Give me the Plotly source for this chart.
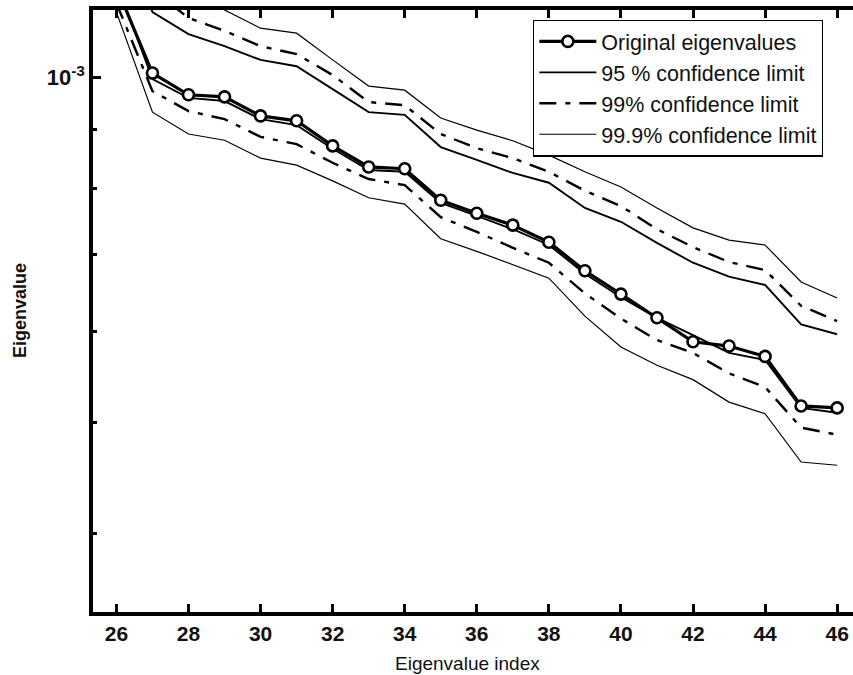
import plotly.graph_objects as go

# Eigenvalue index
idx = list(range(26, 47))

# Original eigenvalues
original = [1.198e-3, 1.008e-3, 9.65e-4, 9.61e-4, 9.25e-4, 9.16e-4, 8.71e-4, 8.35e-4, 8.32e-4,
            7.81e-4, 7.61e-4, 7.43e-4, 7.18e-4, 6.78e-4, 6.47e-4, 6.17e-4, 5.88e-4, 5.83e-4,
            5.71e-4, 5.17e-4, 5.15e-4]

# 95 % confidence limits
upper95 = [1.370e-3, 1.139e-3, 1.090e-3, 1.064e-3, 1.035e-3, 1.022e-3, 9.76e-4, 9.32e-4, 9.27e-4,
           8.69e-4, 8.47e-4, 8.25e-4, 8.09e-4, 7.69e-4, 7.48e-4, 7.17e-4, 6.89e-4, 6.70e-4,
           6.59e-4, 6.09e-4, 5.97e-4]
lower95 = [1.210e-3, 9.96e-4, 9.59e-4, 9.53e-4, 9.19e-4, 9.08e-4, 8.66e-4, 8.30e-4, 8.27e-4,
           7.77e-4, 7.57e-4, 7.37e-4, 7.14e-4, 6.74e-4, 6.43e-4, 6.17e-4, 5.96e-4, 5.75e-4,
           5.67e-4, 5.15e-4, 5.10e-4]

# 99 % confidence limits
upper99 = [1.426e-3, 1.191e-3, 1.126e-3, 1.097e-3, 1.064e-3, 1.047e-3, 1.004e-3, 9.51e-4, 9.45e-4,
           8.92e-4, 8.67e-4, 8.50e-4, 8.27e-4, 7.96e-4, 7.72e-4, 7.37e-4, 7.11e-4, 6.90e-4,
           6.79e-4, 6.32e-4, 6.13e-4]
lower99 = [1.160e-3, 9.72e-4, 9.34e-4, 9.19e-4, 8.87e-4, 8.74e-4, 8.42e-4, 8.15e-4, 8.05e-4,
           7.55e-4, 7.33e-4, 7.10e-4, 6.89e-4, 6.48e-4, 6.16e-4, 5.90e-4, 5.75e-4, 5.52e-4,
           5.37e-4, 4.95e-4, 4.88e-4]

# 99.9 % confidence limits
upper999 = [1.515e-3, 1.290e-3, 1.203e-3, 1.144e-3, 1.103e-3, 1.092e-3, 1.035e-3, 9.82e-4, 9.74e-4,
            9.21e-4, 8.99e-4, 8.80e-4, 8.55e-4, 8.27e-4, 8.02e-4, 7.69e-4, 7.39e-4, 7.21e-4,
            7.14e-4, 6.63e-4, 6.42e-4]
lower999 = [1.139e-3, 9.32e-4, 8.92e-4, 8.81e-4, 8.50e-4, 8.38e-4, 8.12e-4, 7.85e-4, 7.75e-4,
            7.23e-4, 7.05e-4, 6.86e-4, 6.68e-4, 6.19e-4, 5.82e-4, 5.61e-4, 5.45e-4, 5.21e-4,
            5.09e-4, 4.62e-4, 4.59e-4]

x_ticks = list(range(26, 47, 2))
y_major = [1e-3]
y_major_text = ["10<sup>-3</sup>"]
y_minor = [4e-4, 5e-4, 6e-4, 7e-4, 8e-4, 9e-4]

legend_names = ["Original eigenvalues", "95 % confidence limit",
                "99% confidence limit", "99.9% confidence limit"]

FONT = "Liberation Sans, Arial, Helvetica, sans-serif"
DASHDOT = "17px,9px,5px,9px"

fig = go.Figure()

# 99.9% limits (thin solid)
fig.add_trace(go.Scatter(x=idx, y=upper999, mode="lines", name=legend_names[3],
                         legendgroup="c999", legendrank=4,
                         line=dict(color="black", width=1.2)))
fig.add_trace(go.Scatter(x=idx, y=lower999, mode="lines", name=legend_names[3],
                         legendgroup="c999", showlegend=False,
                         line=dict(color="black", width=1.2)))
# 99% limits (dash-dot)
fig.add_trace(go.Scatter(x=idx, y=upper99, mode="lines", name=legend_names[2],
                         legendgroup="c99", legendrank=3,
                         line=dict(color="black", width=2.4, dash=DASHDOT)))
fig.add_trace(go.Scatter(x=idx, y=lower99, mode="lines", name=legend_names[2],
                         legendgroup="c99", showlegend=False,
                         line=dict(color="black", width=2.4, dash=DASHDOT)))
# 95% limits (solid)
fig.add_trace(go.Scatter(x=idx, y=upper95, mode="lines", name=legend_names[1],
                         legendgroup="c95", legendrank=2,
                         line=dict(color="black", width=1.9)))
fig.add_trace(go.Scatter(x=idx, y=lower95, mode="lines", name=legend_names[1],
                         legendgroup="c95", showlegend=False,
                         line=dict(color="black", width=1.9)))
# Original eigenvalues
fig.add_trace(go.Scatter(x=idx, y=original, mode="lines+markers", name=legend_names[0],
                         legendrank=1,
                         line=dict(color="black", width=3.2),
                         marker=dict(symbol="circle", size=11, color="white",
                                     line=dict(color="black", width=2.6))))

fig.update_layout(
    width=853, height=675,
    margin=dict(l=93, r=0, t=10, b=63),
    paper_bgcolor="white", plot_bgcolor="white",
    font=dict(family=FONT, color="black", size=19),
    showlegend=True,
    legend=dict(x=0.579, y=0.984, xanchor="left", yanchor="top",
                bgcolor="white", bordercolor="black", borderwidth=1.3,
                font=dict(family=FONT, size=21.5, color="#111"),
                itemwidth=57, tracegroupgap=0, traceorder="normal"),
    xaxis=dict(range=[25.35, 46.44], tickvals=x_ticks, ticks="inside", ticklen=8,
               tickwidth=2.5, tickcolor="black", showline=True, linecolor="black",
               linewidth=3.5, mirror="ticks", showgrid=False, zeroline=False,
               tickfont=dict(family=FONT, size=21, color="#111", weight="bold")),
    yaxis=dict(type="log", range=[-3.466, -2.9416], tickvals=y_major,
               ticktext=y_major_text, ticks="inside", ticklen=8, tickwidth=2.5,
               tickcolor="black", showline=True, linecolor="black", linewidth=3.5,
               mirror=False, showgrid=False, zeroline=False,
               tickfont=dict(family=FONT, size=22, color="#111", weight="bold"),
               minor=dict(tickvals=y_minor, ticks="inside", ticklen=4, tickwidth=2.5,
                          tickcolor="black", showgrid=False)),
    annotations=[
        dict(text="Eigenvalue index", xref="paper", yref="paper", x=0.493, y=-0.085,
             xanchor="center", yanchor="middle", showarrow=False,
             font=dict(family=FONT, size=19, color="#111")),
        dict(text="<b>Eigenvalue</b>", xref="paper", yref="paper", x=-0.096, y=0.5,
             xanchor="center", yanchor="middle", textangle=-90, showarrow=False,
             font=dict(family=FONT, size=18, color="#111")),
    ],
)

fig.write_html("out.html")
